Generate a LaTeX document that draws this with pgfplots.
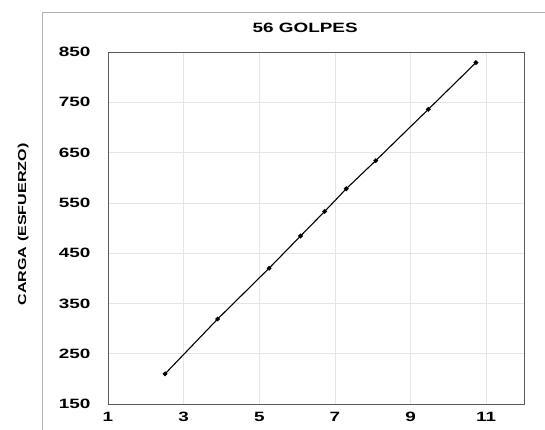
\documentclass[border=0pt]{standalone}
\usepackage{pgfplots}
\pgfplotsset{compat=1.18}
\usepackage{fontspec}
\setmainfont{Liberation Sans}
\newfontfamily\widefont[FakeStretch=1.4]{Liberation Sans}
\begin{document}
\begin{tikzpicture}
\begin{axis}[
  scale only axis,
  width=416bp, height=352bp,
  xmin=1, xmax=12, ymin=150, ymax=850,
  xtick={1,3,5,7,9,11},
  ytick={150,250,350,450,550,650,750,850},
  grid=major,
  major grid style={gray!20, line width=0.6pt},
  axis line style={gray!70!black, line width=0.8pt},
  tick style={draw=none},
  tick label style={font=\widefont\bfseries\fontsize{13.5bp}{15bp}\selectfont},
  /pgf/number format/assume math mode=true,
  xticklabel style={yshift=-5bp},
  yticklabel style={xshift=-14bp},
  ylabel={CARGA (ESFUERZO)},
  ylabel style={font=\widefont\bfseries\fontsize{11.5bp}{13bp}\selectfont, at={(rel axis cs:0,0.51)}, yshift=76bp},
  title={56 GOLPES},
  title style={font=\widefont\bfseries\fontsize{13.5bp}{15bp}\selectfont, at={(rel axis cs:0.474,1)}, yshift=10bp},
]
\addplot[black, line width=1.1pt, mark=*, mark size=1.8pt] coordinates {
  (2.51,210) (3.90,319) (5.26,420) (6.09,484) (6.73,533)
  (7.30,578) (8.08,634) (9.47,736) (10.73,829)
};
\end{axis}
\useasboundingbox ([shift={(-108bp,-26bp)}]current axis.south west) rectangle ([shift={(21bp,52bp)}]current axis.north east);
\draw[gray!60, line width=0.6pt]
  ([shift={(-66bp,-26bp)}]current axis.south west) --
  ([shift={(-66bp,40bp)}]current axis.north west) --
  ([shift={(21bp,40bp)}]current axis.north east);
\end{tikzpicture}
\end{document}
